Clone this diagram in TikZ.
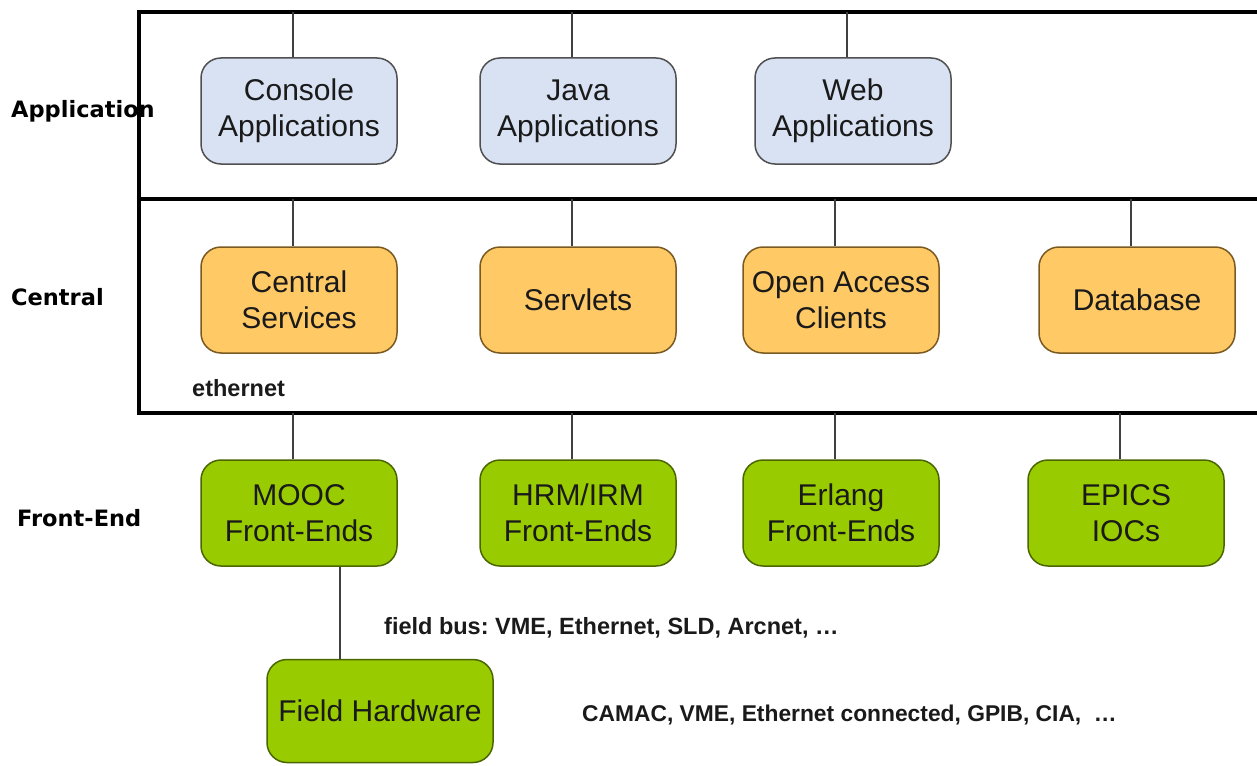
\documentclass[tikz,border=0pt]{standalone}
\usepackage{fontspec}
\setmainfont{Liberation Sans}
\newfontfamily\rowfont{DejaVu Sans}
\usepackage{xcolor}
\usetikzlibrary{positioning,calc}

\definecolor{appfill}{HTML}{D9E2F3}
\definecolor{appdraw}{HTML}{505050}
\definecolor{cenfill}{HTML}{FFC966}
\definecolor{cendraw}{HTML}{7A5A20}
\definecolor{fefill}{HTML}{99CC00}
\definecolor{fedraw}{HTML}{4A6600}
\definecolor{boxtext}{HTML}{1A1A1A}
\definecolor{linkgray}{HTML}{404040}

\begin{document}
\frenchspacing
\begin{tikzpicture}[x=1pt,y=-1pt,
	box/.style={draw,rounded corners=20pt,line width=1.5pt,minimum width=196pt,minimum height=106pt,
		align=center,inner sep=2pt,text=boxtext,font=\fontsize{30}{36}\selectfont},
	appbox/.style={box,fill=appfill,draw=appdraw},
	cenbox/.style={box,fill=cenfill,draw=cendraw},
	febox/.style={box,fill=fefill,draw=fedraw},
	frame/.style={line width=4pt},
	link/.style={line width=2pt,draw=linkgray},
	rowlabel/.style={anchor=west,inner sep=0pt,font=\rowfont\bfseries\fontsize{22.5}{26}\selectfont},
	note/.style={anchor=west,inner sep=0pt,text=boxtext,font=\bfseries\fontsize{23.5}{28}\selectfont}]
	\useasboundingbox (0,0) rectangle (1257,765);
	\fill[white] (0,0) rectangle (1257,765);
	
	\node[rowlabel] (lapp) at (11,111) {Application};
	\node[rowlabel] (lcen) at (11,297) {Central};
	\node[rowlabel] (lfe) at (17,518) {Front-End};
	
	\coordinate (top) at (139,12);
	\coordinate (mid) at (139,199);
	\coordinate (bot) at (139,413);
	\draw[frame] (1257,12) -- (top) -- (bot) -- (1257,413);
	\draw[frame] (mid) -- (1257,199);
	
	\node[appbox] (console) at (299,111) {Console\\Applications};
	\node[appbox] (java) at (578,111) {Java\\Applications};
	\node[appbox] (web) at (853,111) {Web\\Applications};
	
	\node[cenbox] (services) at (299,300) {Central\\Services};
	\node[cenbox] (servlets) at (578,300) {Servlets};
	\node[cenbox] (oac) at (841,300) {Open Access\\Clients};
	\node[cenbox] (database) at (1137,300) {Database};
	
	\node[febox] (mooc) at (299,513) {MOOC\\Front-Ends};
	\node[febox] (hrm) at (578,513) {HRM/IRM\\Front-Ends};
	\node[febox] (erlang) at (841,513) {Erlang\\Front-Ends};
	\node[febox] (epics) at (1126,513) {EPICS\\IOCs};
	
	\node[febox,minimum width=226pt,minimum height=103pt] (field) at (380,711) {Field Hardware};
	
	\foreach \n in {console,java,web}
		\draw[link] ([xshift=-6pt]\n.north) -- ([xshift=-6pt]\n.north |- top);
	\foreach \n in {services,servlets,oac,database}
		\draw[link] ([xshift=-6pt]\n.north) -- ([xshift=-6pt]\n.north |- mid);
	\foreach \n in {mooc,hrm,erlang,epics}
		\draw[link] ([xshift=-6pt]\n.north) -- ([xshift=-6pt]\n.north |- bot);
	\draw[link] ([xshift=41pt]mooc.south) -- ([xshift=41pt]mooc.south |- field.north);
	
	\node[note] (eth) at (192,388) {ethernet};
	\node[note] (bus) at (384,628) {field bus: VME, Ethernet, SLD, Arcnet, …};
	\node[note,font=\bfseries\fontsize{22.8}{28}\selectfont] (camac) at (582,715) {CAMAC, VME, Ethernet connected, GPIB, CIA,\ \ …};
\end{tikzpicture}
\end{document}
